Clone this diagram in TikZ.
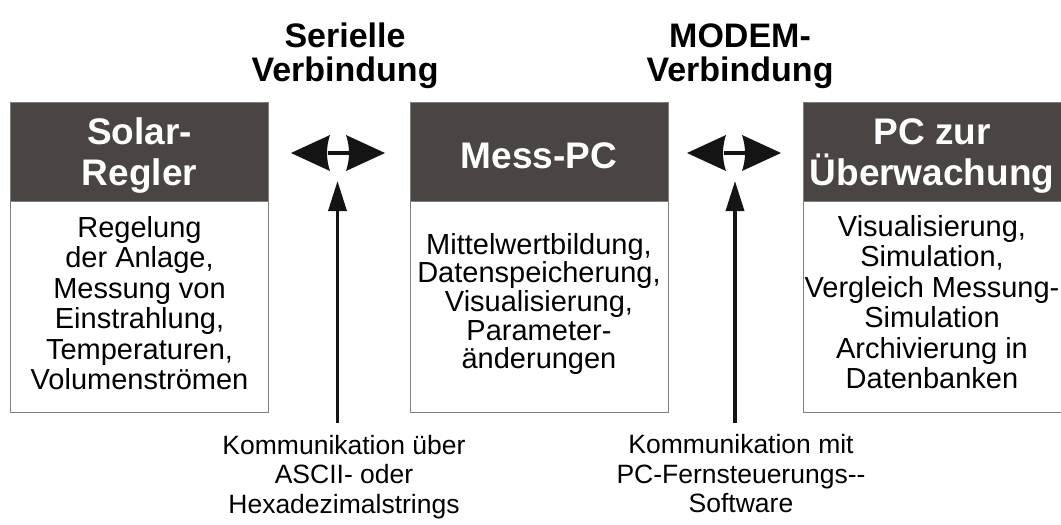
\documentclass[tikz,border=0pt]{standalone}
\usepackage{fontspec}
\setmainfont{Liberation Sans}
\usetikzlibrary{arrows.meta}
\definecolor{hdr}{HTML}{4A4542}
\definecolor{frame}{HTML}{808080}
\definecolor{ink}{HTML}{141414}
\begin{document}
\begin{tikzpicture}[x=1pt,y=-1pt,
  hdrbox/.style={draw=frame, line width=0.8pt, fill=hdr, minimum width=258pt, minimum height=99pt, inner sep=0pt},
  hdrtxt/.style={inner sep=0pt, text=white, align=center, font=\bfseries\fontsize{37}{41}\selectfont},
  bodybox/.style={draw=frame, line width=0.8pt, fill=white, minimum width=258pt, minimum height=211pt, inner sep=0pt},
  bodytxt/.style={inner sep=0pt, align=center, text=black, font=\fontsize{29}{#1}\selectfont},
  titletxt/.style={inner sep=0pt, align=center, text=black, font=\bfseries\fontsize{34}{34}\selectfont},
  labeltxt/.style={inner sep=0pt, align=center, text=black, font=\fontsize{26.5}{29.5}\selectfont},
  vline/.style={draw=ink, line width=3.5pt, -{Triangle[length=30pt,width=18pt]}},
  dblshape/.style={fill=ink}
]
\useasboundingbox (0,0) rectangle (1061,525);
\fill[white] (0,0) rectangle (1061,525);

% titles
\node[titletxt] (t1) at (345,56) {Serielle\\Verbindung};
\node[titletxt] (t2) at (740,56) {MODEM-\\Verbindung};

% boxes
\node[bodybox] (b1) at (139.5,306.5) {};
\node[hdrbox] (h1) at (139.5,151.5) {};
\node[bodybox] (b2) at (539,306.5) {};
\node[hdrbox] (h2) at (539,151.5) {};
\node[bodybox] (b3) at (932,306.5) {};
\node[hdrbox] (h3) at (932,151.5) {};

% header texts
\node[hdrtxt] (ht1) at (139.5,156) {Solar-\\Regler};
\node[hdrtxt] (ht2) at (539,156) {Mess-PC};
\node[hdrtxt] (ht3) at (932,156) {PC zur\\Überwachung};

% body texts
\node[bodytxt=30.5] (x1) at (139.5,303) {Regelung\\der Anlage,\\Messung von\\Einstrahlung,\\Temperaturen,\\Volumenströmen};
\node[bodytxt=28.7] (x2) at (539,304) {Mittelwertbildung,\\Datenspeicherung,\\Visualisierung,\\Parameter-\\änderungen};
\node[bodytxt=30.5] (x3) at (932,302) {Visualisierung,\\Simulation,\\Vergleich Messung-\\Simulation\\Archivierung in\\Datenbanken};

% double arrows
\coordinate (d1) at (338,153);
\coordinate (d2) at (734,153);
\foreach \c in {d1,d2}{
  \begin{scope}[shift={(\c)}]
    \fill[dblshape] (-47,0) -- (-8,-18) .. controls (-12,-6) and (-12,6) .. (-8,18) -- cycle;
    \fill[dblshape] (47,0) -- (8,-18) .. controls (12,-6) and (12,6) .. (8,18) -- cycle;
    \fill[dblshape] (-10.5,-1.8) rectangle (10.5,1.8);
  \end{scope}
}

% bottom labels
\node[labeltxt] (l1) at (344,477) {Kommunikation über\\ASCII- oder\\Hexadezimalstrings};
\node[labeltxt] (l2) at (741,474) {Kommunikation mit\\PC-Fernsteuerungs-{}-\\Software};

% vertical arrows
\coordinate (v1b) at (337.5,423);
\coordinate (v1t) at (337.5,181);
\coordinate (v2b) at (735,423);
\coordinate (v2t) at (735,181);
\draw[vline] (v1b) -- (v1t);
\draw[vline] (v2b) -- (v2t);
\end{tikzpicture}
\end{document}
